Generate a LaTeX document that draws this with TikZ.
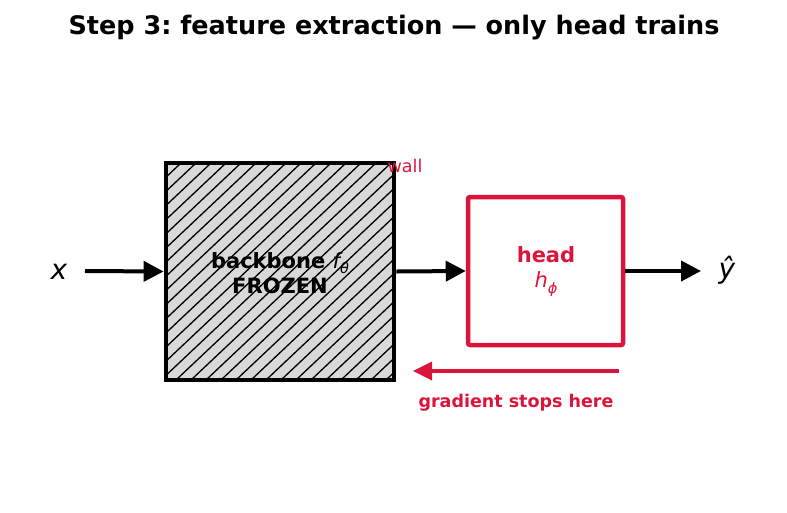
\documentclass[tikz,border=0pt]{standalone}
\usepackage{fontspec}
\setmainfont{DejaVu Sans}
\newfontfamily\obl{DejaVu Sans Oblique}
\usetikzlibrary{arrows.meta}
\frenchspacing
\definecolor{crim}{RGB}{220,20,60}
\definecolor{hatchgray}{RGB}{217,217,217}
\newcommand{\subsc}[1]{\raisebox{-0.25em}{\fontsize{14.5}{16}\selectfont #1}}
\tikzset{
  flow/.style={line width=4pt, -{Triangle[length=20pt,width=20pt]}},
  gradarrow/.style={line width=3.5pt, crim, -{Triangle[length=19pt,width=18pt]}},
  lbl/.style={inner sep=0pt},
}
\begin{document}
\begin{tikzpicture}[x=1pt,y=-1pt]
\useasboundingbox (0,0) rectangle (787,512);
% title
\node[lbl, font=\bfseries\fontsize{25.5}{30}\selectfont] (title) at (394,27.5) {Step 3: feature extraction — only head trains};
% backbone box
\fill[hatchgray] (166,163) rectangle (394,380);
\begin{scope}
\clip (166,163) rectangle (394,380);
\foreach \i in {0,...,31} {
  \draw[line width=1.3pt] (166+15*\i-230,380) -- (166+15*\i,163);
}
\end{scope}
\node[draw=black, line width=4.8pt, minimum width=228pt, minimum height=217pt, inner sep=0pt] (bb) at (280,271.5) {};
\node[lbl, font=\bfseries\fontsize{21}{25}\selectfont, align=center] (bbt) at (280,273) {backbone {\obl\mdseries f\subsc{θ}}\\FROZEN};
\node[lbl, crim, font=\fontsize{17.5}{20}\selectfont] (wall) at (405,166) {wall};
% head
\node[draw=crim, line width=4.5pt, rounded corners=2pt, minimum width=155pt, minimum height=148pt, inner sep=0pt] (head) at (545.5,271) {};
\node[lbl, crim, font=\fontsize{21}{25}\selectfont, align=center] (headt) at (546,271.5) {\textbf{head}\\{\obl h\subsc{ϕ}}};
% inputs/outputs
\node[lbl, font=\obl\fontsize{28}{32}\selectfont] (x) at (59,272) {x};
\node[lbl, font=\obl\fontsize{28}{32}\selectfont] (y) at (727,270) {ŷ};
\coordinate (xs) at (85,271);
\coordinate (ye) at (701,271);
\draw[flow] (xs) -- (bb.west);
\draw[flow] (bb.east) -- (head.west);
\draw[flow] (head.east) -- (ye);
% gradient
\coordinate (gs) at (619,371);
\coordinate (ge) at (413,371);
\draw[gradarrow] (gs) -- (ge);
\node[lbl, crim, font=\bfseries\fontsize{17.5}{21}\selectfont] (grad) at (516,403) {gradient stops here};
\end{tikzpicture}
\end{document}
